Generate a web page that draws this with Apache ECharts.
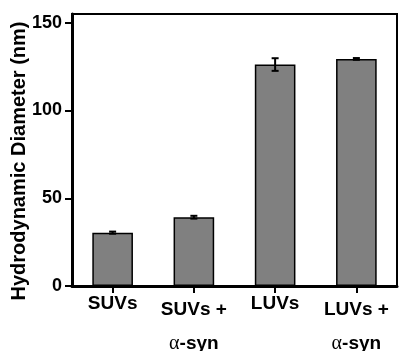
<!DOCTYPE html>
<html><head><meta charset="utf-8">
<script src="https://cdn.jsdelivr.net/npm/echarts@6/dist/echarts.min.js"></script>
<style>html,body{margin:0;padding:0;background:#fff}#c{width:399px;height:351px}</style>
</head><body><div id="c"></div>
<script>
const categories = ['SUVs', 'SUVs +|α-syn', 'LUVs', 'LUVs +|α-syn'];
const values = [30.4, 39.2, 126.2, 129.4];
const errors = [0.6, 0.8, 3.6, 0.5];
const yTicks = [0, 50, 100, 150];
const yName = 'Hydrodynamic Diameter (nm)';

const chart = echarts.init(document.getElementById('c'), null, {renderer: 'canvas'});
const F = '"Liberation Sans", Arial, sans-serif';
chart.setOption({
  animation: false,
  grid: {left: 72, right: 2, top: 14, bottom: 65, show: true, borderColor: '#000', borderWidth: 2,
         containLabel: false, outerBoundsMode: 'none'},
  graphic: [{
    type: 'text', x: 19, y: 161, rotation: Math.PI / 2,
    style: {text: yName, fontFamily: F, fontWeight: 'bold', fontSize: 20, fill: '#000', align: 'center', verticalAlign: 'middle'}
  }],
  xAxis: {
    type: 'category', data: categories,
    axisLine: {lineStyle: {color: '#000', width: 3}},
    axisTick: {show: true, alignWithLabel: true, length: 7, lineStyle: {color: '#000', width: 2}},
    axisLabel: {
      margin: 11, color: '#000', interval: 0,
      formatter: function (v) {
        const p = v.split('|');
        if (p.length === 1) return '{s|' + p[0] + '}';
        return '{a|' + p[0] + '}\n{g|α}{b|-' + p[1].slice(2) + '}';
      },
      rich: {
        s: {fontFamily: F, fontWeight: 'bold', fontSize: 19, lineHeight: 14, color: '#000'},
        a: {fontFamily: F, fontWeight: 'bold', fontSize: 19, lineHeight: 26, color: '#000'},
        g: {fontFamily: '"Liberation Serif", serif', fontSize: 20, lineHeight: 42, color: '#000'},
        b: {fontFamily: F, fontWeight: 'bold', fontSize: 19, lineHeight: 42, color: '#000'}
      }
    }
  },
  yAxis: {
    type: 'value', min: 0, max: 155, interval: 50,
    splitLine: {show: false},
    axisLine: {show: true, lineStyle: {color: '#000', width: 3}},
    axisTick: {show: true, length: 7, customValues: yTicks, lineStyle: {color: '#000', width: 2}},
    axisLabel: {customValues: yTicks, margin: 10, color: '#000', fontFamily: F, fontWeight: 'bold', fontSize: 18}
  },
  series: [
    {
      type: 'bar', data: values, barWidth: '50%',
      itemStyle: {color: '#808080', borderColor: '#000', borderWidth: 1.5}
    },
    {
      type: 'custom',
      data: values.map((v, i) => [i, v - errors[i], v + errors[i]]),
      renderItem: function (params, api) {
        const lo = api.coord([api.value(0), api.value(1)]);
        const hi = api.coord([api.value(0), api.value(2)]);
        const w = 3.5;
        const st = {stroke: '#000', lineWidth: 2};
        return {type: 'group', children: [
          {type: 'line', shape: {x1: hi[0], y1: hi[1], x2: lo[0], y2: lo[1]}, style: st},
          {type: 'line', shape: {x1: hi[0] - w, y1: hi[1], x2: hi[0] + w, y2: hi[1]}, style: st},
          {type: 'line', shape: {x1: lo[0] - w, y1: lo[1], x2: lo[0] + w, y2: lo[1]}, style: st}
        ]};
      },
      z: 10
    }
  ]
});
</script></body></html>
